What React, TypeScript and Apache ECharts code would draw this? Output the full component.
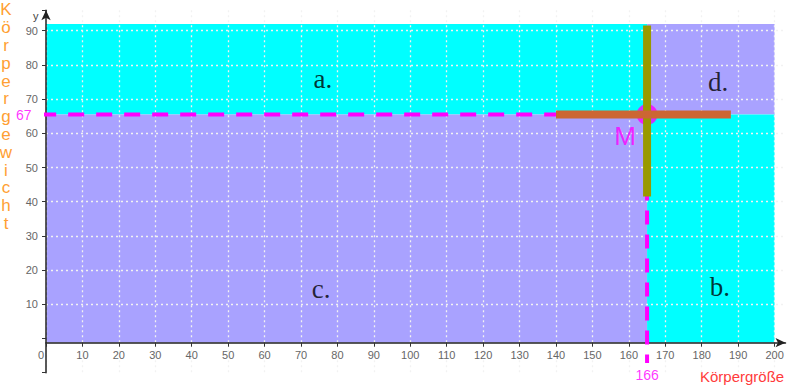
import React, { useEffect, useRef } from 'react';
import * as echarts from 'echarts';

// ---- data ----
const meanX = 165;
const meanY = 65.5;
const meanXLabel = '166';
const meanYLabel = '67';
const xExtent = [0, 200];
const yTop = 92;
const yBottom = -1.2;
const heightSpread = [140, 188];
const weightSpread = [41.5, 91.5];
const quadrantNames = ['a.', 'b.', 'c.', 'd.'];
const quadrantAt = [
  [76, 76],
  [185, 15],
  [75.5, 14.5],
  [184.5, 75],
];
const yTitle = 'Körpergewicht';
const xTitle = 'Körpergröße';
const dashStartX = -1.6;
const dashEndY = -7.2;

const CYAN = '#00FFFF';
const LAV = '#A9A2FF';
const MAG = '#FF00FF';

export default function App() {
  const ref = useRef<HTMLDivElement>(null);
  useEffect(() => {
    document.body.style.margin = '0';
    if (!ref.current) return;
    const chart = echarts.init(ref.current, undefined, { renderer: 'svg' });
    const grid = '#f2f2f2';
    const ySplitColors = ['rgba(0,0,0,0)', grid, grid, grid, grid, grid, grid, grid, grid, grid, 'rgba(0,0,0,0)'];
    const option: any = {
      animation: false,
      backgroundColor: '#fff',
      grid: { left: 46, right: 3.5, top: 10.2, bottom: 18.3 },
      xAxis: {
        type: 'value',
        min: 0,
        max: 203,
        interval: 10,
        position: 'bottom',
        offset: -30,
        z: 3,
        axisLine: {
          onZero: false,
          lineStyle: { color: '#222', width: 1.5 },
          symbol: ['none', 'arrow'],
          symbolSize: [7, 10],
        },
        axisTick: { show: true, length: 4, lineStyle: { color: '#333' } },
        axisLabel: {
          color: '#666',
          fontSize: 11,
          fontFamily: 'Arial, Liberation Sans, sans-serif',
          margin: 7,
          showMaxLabel: false,
          formatter: (v: number) => (v > 200 ? '' : v === 0 ? '{z|0}' : String(v)),
          rich: { z: { padding: [0, 10, 0, 0], color: '#666', fontSize: 11 } },
        },
        splitLine: { show: true, showMaxLine: false, lineStyle: { color: grid, type: [2, 3], width: 1.3 } },
      },
      yAxis: {
        type: 'value',
        min: -10,
        max: 96,
        interval: 10,
        z: 3,
        axisLine: {
          onZero: false,
          lineStyle: { color: '#222', width: 1.5 },
          symbol: ['none', 'arrow'],
          symbolSize: [7, 10],
        },
        axisTick: { show: true, length: 4, lineStyle: { color: '#333' } },
        axisLabel: {
          color: '#666',
          fontSize: 11,
          fontFamily: 'Arial, Liberation Sans, sans-serif',
          margin: 8,
          formatter: (v: number) => (v > 0 && v <= 90 ? String(v) : ''),
        },
        splitLine: { show: true, showMinLine: false, showMaxLine: false, lineStyle: { color: ySplitColors, type: [2, 3], width: 1.3 } },
      },
      graphic: [
        {
          type: 'text',
          x: 6,
          y: 1,
          style: {
            text: yTitle.split('').join('\n'),
            fill: '#FFA033',
            font: '17px Arial, Liberation Sans, sans-serif',
            lineHeight: 17.8,
            align: 'center',
            verticalAlign: 'top',
          },
        },
        {
          type: 'text',
          left: 700,
          top: 369,
          style: { text: xTitle, fill: '#FF3B3B', font: '15px Arial, Liberation Sans, sans-serif' },
        },
        {
          type: 'text',
          left: 33,
          top: 10,
          style: { text: 'y', fill: '#444', font: '11px Arial, Liberation Sans, sans-serif' },
        },
        {
          type: 'text',
          left: 769,
          top: 322,
          style: { text: 'x', fill: '#999', font: '11px Arial, Liberation Sans, sans-serif' },
        },
      ],
      series: [
        {
          type: 'scatter',
          data: [],
          z: 1,
          silent: true,
          markArea: {
            silent: true,
            data: [
              [{ xAxis: xExtent[0], yAxis: meanY, itemStyle: { color: CYAN, opacity: 1 } }, { xAxis: meanX, yAxis: yTop }],
              [{ xAxis: meanX, yAxis: meanY, itemStyle: { color: LAV, opacity: 1 } }, { xAxis: xExtent[1], yAxis: yTop }],
              [{ xAxis: xExtent[0], yAxis: yBottom, itemStyle: { color: LAV, opacity: 1 } }, { xAxis: meanX, yAxis: meanY }],
              [{ xAxis: meanX, yAxis: yBottom, itemStyle: { color: CYAN, opacity: 1 } }, { xAxis: xExtent[1], yAxis: meanY }],
            ],
          },
        },
        {
          type: 'line',
          z: 5,
          clip: false,
          symbol: 'none',
          data: [[dashStartX, meanY], [meanX, meanY]],
          lineStyle: { color: MAG, width: 4, type: [16, 12] },
        },
        {
          type: 'line',
          z: 5,
          clip: false,
          symbol: 'none',
          data: [[meanX, meanY], [meanX, dashEndY]],
          lineStyle: { color: MAG, width: 4, type: [14, 10] },
        },
        {
          type: 'scatter',
          z: 6,
          symbolSize: 21,
          itemStyle: { color: MAG },
          data: [[meanX, meanY]],
          label: {
            show: true,
            formatter: 'M',
            position: 'inside',
            offset: [-22, 21],
            color: MAG,
            fontSize: 26,
            fontFamily: 'Arial, Liberation Sans, sans-serif',
          },
        },
        {
          type: 'line',
          z: 7,
          symbol: 'none',
          data: [[meanX, weightSpread[0]], [meanX, weightSpread[1]]],
          lineStyle: { color: '#999900', width: 8, cap: 'butt' },
        },
        {
          type: 'line',
          z: 8,
          symbol: 'none',
          data: [[heightSpread[0], meanY], [heightSpread[1], meanY]],
          lineStyle: { color: '#CC6633', width: 8, cap: 'butt' },
        },
        {
          type: 'scatter',
          z: 9,
          symbolSize: 1,
          clip: false,
          itemStyle: { color: 'rgba(0,0,0,0)' },
          data: [
            { value: [xExtent[0], meanY], label: { show: true, formatter: meanYLabel, position: 'left', distance: 14, color: MAG, fontSize: 14, fontFamily: 'Arial, Liberation Sans, sans-serif' } },
            { value: [meanX, dashEndY], label: { show: true, formatter: meanXLabel, position: 'bottom', distance: 4, color: MAG, fontSize: 14, fontFamily: 'Arial, Liberation Sans, sans-serif' } },
            ...quadrantNames.map((n, i) => ({
              value: quadrantAt[i],
              label: { show: true, formatter: n, position: 'inside', color: '#000', fontSize: 27, fontFamily: 'Liberation Serif, Times New Roman, serif' },
            })),
          ],
        },
      ],
    };
    chart.setOption(option);
    return () => chart.dispose();
  }, []);
  return <div ref={ref} style={{ width: 789, height: 391 }} />;
}
